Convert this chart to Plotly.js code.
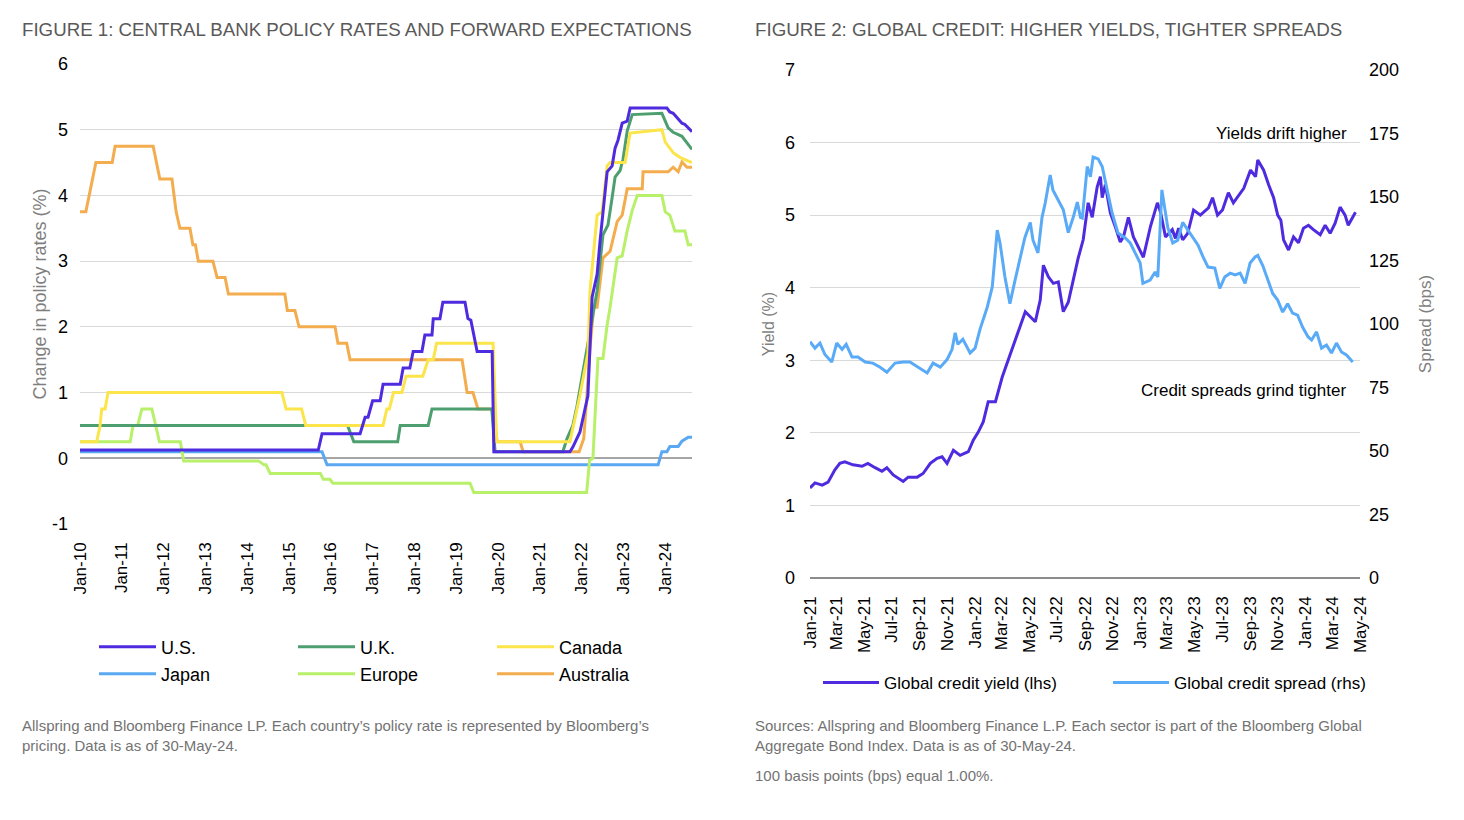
<!DOCTYPE html>
<html><head><meta charset="utf-8">
<script src="https://cdn.plot.ly/plotly-3.0.1.min.js"></script>
<style>html,body{margin:0;padding:0;background:#fff;}#chart{width:1464px;height:820px;}</style>
</head><body><div id="chart"></div>
<script>
// ---------- FIGURE 1 data: x in decimal years, y = policy rate (%) ----------
const usX = [2010.0, 2015.70, 2015.79, 2016.70, 2016.82, 2016.89, 2017.0, 2017.18, 2017.25, 2017.66, 2017.73, 2017.89, 2017.97, 2018.18, 2018.25, 2018.42, 2018.45, 2018.61, 2018.68, 2019.21, 2019.28, 2019.35, 2019.50, 2019.86, 2019.90, 2021.72, 2021.79, 2021.96, 2022.08, 2022.15, 2022.25, 2022.37, 2022.44, 2022.51, 2022.56, 2022.61, 2022.73, 2022.80, 2022.87, 2022.97, 2023.09, 2023.16, 2024.04, 2024.11, 2024.19, 2024.31, 2024.40, 2024.47, 2024.55, 2024.64];
const usY = [0.125, 0.125, 0.375, 0.375, 0.625, 0.625, 0.875, 0.875, 1.125, 1.125, 1.375, 1.375, 1.625, 1.625, 1.875, 1.875, 2.125, 2.125, 2.375, 2.375, 2.125, 2.1, 1.625, 1.625, 0.1, 0.1, 0.17, 0.4, 0.75, 0.95, 2.45, 2.8, 3.3, 3.72, 4.1, 4.36, 4.45, 4.72, 4.84, 5.1, 5.13, 5.33, 5.33, 5.27, 5.25, 5.17, 5.1, 5.08, 5.03, 4.97];

const ukX = [2010.0, 2016.40, 2016.55, 2017.60, 2017.66, 2018.33, 2018.42, 2019.85, 2019.93, 2021.55, 2021.65, 2021.79, 2021.89, 2022.37, 2022.51, 2022.63, 2022.73, 2022.80, 2022.92, 2022.99, 2023.09, 2023.21, 2023.92, 2024.07, 2024.19, 2024.40, 2024.64];
const ukY = [0.5, 0.5, 0.25, 0.25, 0.5, 0.5, 0.75, 0.75, 0.1, 0.1, 0.3, 0.5, 0.8, 2.55, 3.4, 3.55, 3.97, 4.28, 4.38, 4.55, 4.98, 5.23, 5.25, 5.03, 4.96, 4.9, 4.7];

const caX = [2010.0, 2010.40, 2010.48, 2010.52, 2010.60, 2010.67, 2014.83, 2014.93, 2015.30, 2015.40, 2017.25, 2017.34, 2017.40, 2017.50, 2017.70, 2017.80, 2018.20, 2018.33, 2018.45, 2018.53, 2019.88, 2019.97, 2021.72, 2021.96, 2022.15, 2022.20, 2022.37, 2022.49, 2022.61, 2022.68, 2023.04, 2023.16, 2023.92, 2024.0, 2024.19, 2024.35, 2024.64];
const caY = [0.25, 0.25, 0.5, 0.75, 0.75, 1.0, 1.0, 0.75, 0.75, 0.5, 0.5, 0.75, 0.75, 1.0, 1.0, 1.25, 1.25, 1.5, 1.5, 1.75, 1.75, 0.25, 0.25, 0.96, 1.6, 2.55, 3.7, 3.75, 4.45, 4.5, 4.5, 4.95, 5.0, 4.81, 4.65, 4.58, 4.5];

const jpX = [2010.0, 2015.79, 2015.91, 2023.83, 2023.92, 2024.04, 2024.11, 2024.31, 2024.40, 2024.55, 2024.64];
const jpY = [0.1, 0.1, -0.1, -0.1, 0.1, 0.1, 0.18, 0.18, 0.26, 0.32, 0.32];

const euX = [2010.0, 2011.20, 2011.27, 2011.38, 2011.48, 2011.72, 2011.90, 2012.40, 2012.48, 2014.27, 2014.40, 2014.45, 2014.55, 2015.75, 2015.82, 2015.98, 2016.05, 2019.33, 2019.42, 2022.12, 2022.19, 2022.27, 2022.39, 2022.51, 2022.61, 2022.68, 2022.85, 2022.97, 2023.09, 2023.21, 2023.33, 2023.92, 2024.0, 2024.11, 2024.23, 2024.47, 2024.55, 2024.64];
const euY = [0.25, 0.25, 0.5, 0.5, 0.75, 0.75, 0.25, 0.25, -0.04, -0.04, -0.1, -0.1, -0.23, -0.23, -0.32, -0.32, -0.38, -0.38, -0.52, -0.52, -0.03, 0.0, 1.52, 1.52, 2.03, 2.3, 3.05, 3.08, 3.46, 3.77, 4.0, 4.0, 3.75, 3.7, 3.46, 3.46, 3.25, 3.25];

const auX = [2010.0, 2010.14, 2010.38, 2010.77, 2010.84, 2011.75, 2011.91, 2012.20, 2012.30, 2012.39, 2012.63, 2012.70, 2012.76, 2012.83, 2013.18, 2013.28, 2013.47, 2013.55, 2014.90, 2014.96, 2015.14, 2015.24, 2016.10, 2016.17, 2016.38, 2016.46, 2019.14, 2019.26, 2019.40, 2019.52, 2019.86, 2019.98, 2020.53, 2020.60, 2021.94, 2022.05, 2022.12, 2022.20, 2022.29, 2022.37, 2022.51, 2022.68, 2022.85, 2022.97, 2023.09, 2023.45, 2023.47, 2024.07, 2024.19, 2024.31, 2024.40, 2024.52, 2024.64];
const auY = [3.75, 3.75, 4.5, 4.5, 4.75, 4.75, 4.25, 4.25, 3.75, 3.5, 3.5, 3.25, 3.25, 3.0, 3.0, 2.75, 2.75, 2.5, 2.5, 2.25, 2.25, 2.0, 2.0, 1.75, 1.75, 1.5, 1.5, 1.0, 1.0, 0.75, 0.75, 0.25, 0.25, 0.1, 0.1, 0.3, 0.9, 1.68, 2.3, 2.3, 3.05, 3.15, 3.6, 3.7, 4.1, 4.1, 4.36, 4.36, 4.43, 4.36, 4.51, 4.43, 4.43];

const fig1TickVals = [2010, 2011, 2012, 2013, 2014, 2015, 2016, 2017, 2018, 2019, 2020, 2021, 2022, 2023, 2024];
const fig1TickLabels = ['Jan-10', 'Jan-11', 'Jan-12', 'Jan-13', 'Jan-14', 'Jan-15', 'Jan-16', 'Jan-17', 'Jan-18', 'Jan-19', 'Jan-20', 'Jan-21', 'Jan-22', 'Jan-23', 'Jan-24'];
const fig1YTickVals = [-1, 0, 1, 2, 3, 4, 5, 6];
const fig1YTickLabels = ['-1', '0', '1', '2', '3', '4', '5', '6'];

// ---------- FIGURE 2 data ----------
const yieldDates = ['2021-01-01','2021-01-12','2021-01-28','2021-02-10','2021-02-25','2021-03-08','2021-03-19','2021-04-06','2021-04-26','2021-05-09','2021-05-25','2021-06-09','2021-06-20','2021-07-04','2021-07-26','2021-08-06','2021-08-26','2021-09-08','2021-09-24','2021-10-09','2021-10-20','2021-10-31','2021-11-14','2021-11-29','2021-12-17','2021-12-28','2022-01-08','2022-01-19','2022-01-30','2022-02-15','2022-03-02','2022-03-15','2022-03-26','2022-04-04','2022-04-22','2022-05-03','2022-05-14','2022-05-25','2022-06-01','2022-06-12','2022-06-23','2022-07-04','2022-07-15','2022-07-26','2022-08-06','2022-08-17','2022-08-28','2022-09-08','2022-09-17','2022-09-28','2022-10-05','2022-10-09','2022-10-16','2022-10-27','2022-11-07','2022-11-18','2022-11-25','2022-12-06','2022-12-17','2022-12-28','2023-01-08','2023-01-24','2023-02-08','2023-02-15','2023-02-26','2023-03-13','2023-03-20','2023-03-27','2023-04-05','2023-04-16','2023-04-29','2023-05-14','2023-06-01','2023-06-10','2023-06-21','2023-07-02','2023-07-15','2023-07-26','2023-08-07','2023-08-18','2023-09-02','2023-09-13','2023-09-18','2023-10-01','2023-10-12','2023-10-23','2023-11-01','2023-11-08','2023-11-14','2023-11-25','2023-12-06','2023-12-17','2023-12-28','2024-01-08','2024-01-19','2024-02-03','2024-02-14','2024-02-25','2024-03-07','2024-03-18','2024-03-29','2024-04-05','2024-04-21'];
const yieldValues = [1.24,1.31,1.28,1.32,1.49,1.58,1.60,1.56,1.54,1.58,1.52,1.47,1.52,1.42,1.33,1.39,1.39,1.44,1.58,1.65,1.67,1.58,1.76,1.69,1.74,1.90,2.01,2.15,2.43,2.43,2.77,3.00,3.21,3.38,3.67,3.60,3.53,3.83,4.31,4.15,4.06,4.08,3.67,3.80,4.11,4.41,4.66,5.17,4.97,5.39,5.53,5.24,5.42,5.03,4.84,4.63,4.70,4.97,4.70,4.56,4.42,4.85,5.17,5.04,4.70,4.80,4.68,4.82,4.66,4.75,5.07,5.00,5.10,5.24,5.00,5.07,5.31,5.17,5.28,5.37,5.62,5.53,5.76,5.62,5.42,5.24,5.00,4.93,4.66,4.52,4.70,4.62,4.82,4.86,4.80,4.73,4.86,4.75,4.89,5.11,5.00,4.86,5.04];

const spreadDates = ['2021-01-01','2021-01-12','2021-01-23','2021-02-03','2021-02-18','2021-03-01','2021-03-13','2021-03-22','2021-04-04','2021-04-17','2021-05-03','2021-05-20','2021-06-05','2021-06-20','2021-07-08','2021-07-26','2021-08-10','2021-08-28','2021-09-17','2021-09-30','2021-10-16','2021-10-31','2021-11-11','2021-11-18','2021-11-24','2021-12-05','2021-12-21','2022-01-01','2022-01-12','2022-01-28','2022-02-08','2022-02-19','2022-02-25','2022-03-08','2022-03-19','2022-03-30','2022-04-10','2022-04-21','2022-05-03','2022-05-09','2022-05-20','2022-05-29','2022-06-05','2022-06-16','2022-06-22','2022-07-04','2022-07-15','2022-07-26','2022-08-06','2022-08-15','2022-08-22','2022-08-26','2022-09-06','2022-09-13','2022-09-19','2022-09-30','2022-10-09','2022-10-20','2022-10-31','2022-11-13','2022-11-29','2022-12-10','2022-12-21','2023-01-01','2023-01-07','2023-01-23','2023-02-03','2023-02-09','2023-02-18','2023-02-25','2023-03-03','2023-03-14','2023-03-25','2023-04-05','2023-04-16','2023-04-28','2023-05-09','2023-05-20','2023-05-31','2023-06-15','2023-06-26','2023-07-07','2023-07-19','2023-07-30','2023-08-10','2023-08-21','2023-09-01','2023-09-12','2023-09-18','2023-09-29','2023-10-10','2023-10-21','2023-11-01','2023-11-12','2023-11-23','2023-12-04','2023-12-15','2023-12-26','2024-01-07','2024-01-15','2024-01-26','2024-02-06','2024-02-17','2024-02-28','2024-03-10','2024-03-21','2024-04-01','2024-04-15'];
const spreadValues = [93,90.5,92.5,88,85,92.5,90,92,87,87,85,84.6,83,81,84.6,85,85,83,80.7,84.6,83,86,90,96.5,92,94,88.6,90.5,98,106.7,114.6,137,132,118.5,108,117,125,134,140,133,128,142,147.6,158.7,152.8,148.8,145,136,142,148,142,141.7,162,158,165.7,165,162,152.8,143.7,135.8,133.9,131.9,128,124,116,117.3,120.5,118.5,152.8,145,138,131.9,133,140,137,134,131,126.4,122.4,122,114,118.5,120,119.3,120,116,124,126.4,127,123,117.3,112,109.4,104.7,108,104.3,103.5,98.8,95,93.7,96.9,90.5,91.7,88.6,92.5,89,87.8,85];

// ---------- styling ----------
const W = 1464, H = 820;
const px = v => v / W;
const py = v => 1 - v / H;
const FONT = 'Liberation Sans, Arial, sans-serif';
const GRID = '#d9d9d9';

const C = {us:'#4f2be0', uk:'#4e9f70', ca:'#fbe54a', jp:'#5aa8f2', eu:'#b8f06a', au:'#f3ad4e', yld:'#4f2be0', spr:'#5aabf7'};

function ln(x, y, name, color, legend, xa, ya) {
  return {x, y, name, type:'scatter', mode:'lines', line:{color, width:3}, legend, xaxis:xa, yaxis:ya, hoverinfo:'skip'};
}

const data = [
  ln(jpX, jpY, 'Japan', C.jp, 'legend2', 'x', 'y'),
  ln(euX, euY, 'Europe', C.eu, 'legend2', 'x', 'y'),
  ln(auX, auY, 'Australia', C.au, 'legend2', 'x', 'y'),
  ln(ukX, ukY, 'U.K.', C.uk, 'legend', 'x', 'y'),
  ln(caX, caY, 'Canada', C.ca, 'legend', 'x', 'y'),
  ln(usX, usY, 'U.S.', C.us, 'legend', 'x', 'y'),
  ln(spreadDates, spreadValues, 'Global credit spread (rhs)', C.spr, 'legend3', 'x2', 'y3'),
  ln(yieldDates, yieldValues, 'Global credit yield (lhs)', C.yld, 'legend3', 'x2', 'y2')
];
data[5].legendrank = 1; data[3].legendrank = 2; data[4].legendrank = 3;
data[0].legendrank = 1; data[1].legendrank = 2; data[2].legendrank = 3;
data[7].legendrank = 1; data[6].legendrank = 2;

const legBase = {orientation:'h', xanchor:'left', yanchor:'middle', bgcolor:'rgba(0,0,0,0)',
  font:{family:FONT, size:18, color:'#000'}, entrywidthmode:'pixels', tracegroupgap:0, traceorder:'normal'};

const layout = {
  width: W, height: H,
  margin: {l:0, r:0, t:0, b:0},
  paper_bgcolor: '#fff', plot_bgcolor: 'rgba(0,0,0,0)',
  font: {family: FONT, color: '#000'},
  showlegend: true,
  xaxis: {
    domain: [px(80), px(692)], anchor: 'y', range: [2010, 2024.64],
    tickmode: 'array', tickvals: fig1TickVals, ticktext: fig1TickLabels,
    tickangle: -90, tickfont: {family: FONT, size: 17, color: '#000'},
    showgrid: false, zeroline: false, showline: false, ticks: '', ticklabelstandoff: 14
  },
  yaxis: {
    domain: [py(524), py(64)], anchor: 'x', range: [-1, 6],
    tickmode: 'array', tickvals: fig1YTickVals, ticktext: fig1YTickLabels,
    gridcolor: GRID, gridwidth: 1, zeroline: true, zerolinecolor: '#a6a6a6', zerolinewidth: 2,
    showline: false, ticks: '', tickfont: {family: FONT, size: 18, color: '#000'}, ticklabelstandoff: 11,
    title: {text: 'Change in policy rates (%)', font: {family: FONT, size: 18, color: '#7f7f7f'}, standoff: 0}
  },
  xaxis2: {
    domain: [px(810), px(1360)], anchor: 'y2', type: 'date', range: ['2021-01-01', '2024-05-01'],
    tick0: '2021-01-01', dtick: 'M2', tickformat: '%b-%y',
    tickangle: -90, tickfont: {family: FONT, size: 17, color: '#000'},
    showgrid: false, zeroline: false, showline: false, ticks: '', ticklabelstandoff: 14
  },
  yaxis2: {
    domain: [py(578), py(70)], anchor: 'x2', range: [0, 7], dtick: 1, tick0: 0,
    gridcolor: GRID, gridwidth: 1, zeroline: true, zerolinecolor: '#8c8c8c', zerolinewidth: 1.5,
    showline: false, ticks: '', tickfont: {family: FONT, size: 18, color: '#000'}, ticklabelstandoff: 14,
    title: {text: 'Yield (%)', font: {family: FONT, size: 16, color: '#7f7f7f'}, standoff: 6}
  },
  yaxis3: {
    overlaying: 'y2', side: 'right', anchor: 'x2', range: [0, 200], dtick: 25, tick0: 0,
    showgrid: false, zeroline: false, showline: false, ticks: '',
    tickfont: {family: FONT, size: 18, color: '#000'}, ticklabelstandoff: 8,
    title: {text: 'Spread (bps)', font: {family: FONT, size: 17, color: '#7f7f7f'}, standoff: 21}
  },
  legend: Object.assign({}, legBase, {x: px(94), y: py(647), itemwidth: 57, entrywidth: 127}),
  legend2: Object.assign({}, legBase, {x: px(94), y: py(674), itemwidth: 57, entrywidth: 127}),
  legend3: Object.assign({}, legBase, {x: px(818), y: py(683), itemwidth: 56, entrywidth: 219, font:{family: FONT, size: 17, color:'#000'}}),
  annotations: [
    {xref:'paper', yref:'paper', x: px(20), y: py(29), xanchor:'left', yanchor:'middle', showarrow:false,
     text:'FIGURE 1: CENTRAL BANK POLICY RATES AND FORWARD EXPECTATIONS', font:{family:FONT, size:18.7, color:'#595959'}},
    {xref:'paper', yref:'paper', x: px(753), y: py(29), xanchor:'left', yanchor:'middle', showarrow:false,
     text:'FIGURE 2: GLOBAL CREDIT: HIGHER YIELDS, TIGHTER SPREADS', font:{family:FONT, size:18.8, color:'#595959'}},
    {xref:'paper', yref:'paper', x: px(1349), y: py(133), xanchor:'right', yanchor:'middle', showarrow:false,
     text:'Yields drift higher', font:{family:FONT, size:17, color:'#000'}},
    {xref:'paper', yref:'paper', x: px(1348), y: py(390), xanchor:'right', yanchor:'middle', showarrow:false,
     text:'Credit spreads grind tighter', font:{family:FONT, size:17, color:'#000'}},
    {xref:'paper', yref:'paper', x: px(20), y: py(715), xanchor:'left', yanchor:'top', showarrow:false, align:'left',
     text:'Allspring and Bloomberg Finance LP. Each country\u2019s policy rate is represented by Bloomberg\u2019s<br>pricing. Data is as of 30-May-24.',
     font:{family:FONT, size:15, color:'#737373'}},
    {xref:'paper', yref:'paper', x: px(753), y: py(715), xanchor:'left', yanchor:'top', showarrow:false, align:'left',
     text:'Sources: Allspring and Bloomberg Finance L.P. Each sector is part of the Bloomberg Global<br>Aggregate Bond Index. Data is as of 30-May-24.',
     font:{family:FONT, size:15, color:'#737373'}},
    {xref:'paper', yref:'paper', x: px(753), y: py(765), xanchor:'left', yanchor:'top', showarrow:false, align:'left',
     text:'100 basis points (bps) equal 1.00%.',
     font:{family:FONT, size:15, color:'#737373'}}
  ]
};

Plotly.newPlot('chart', data, layout, {staticPlot: true, displayModeBar: false});
</script></body></html>
